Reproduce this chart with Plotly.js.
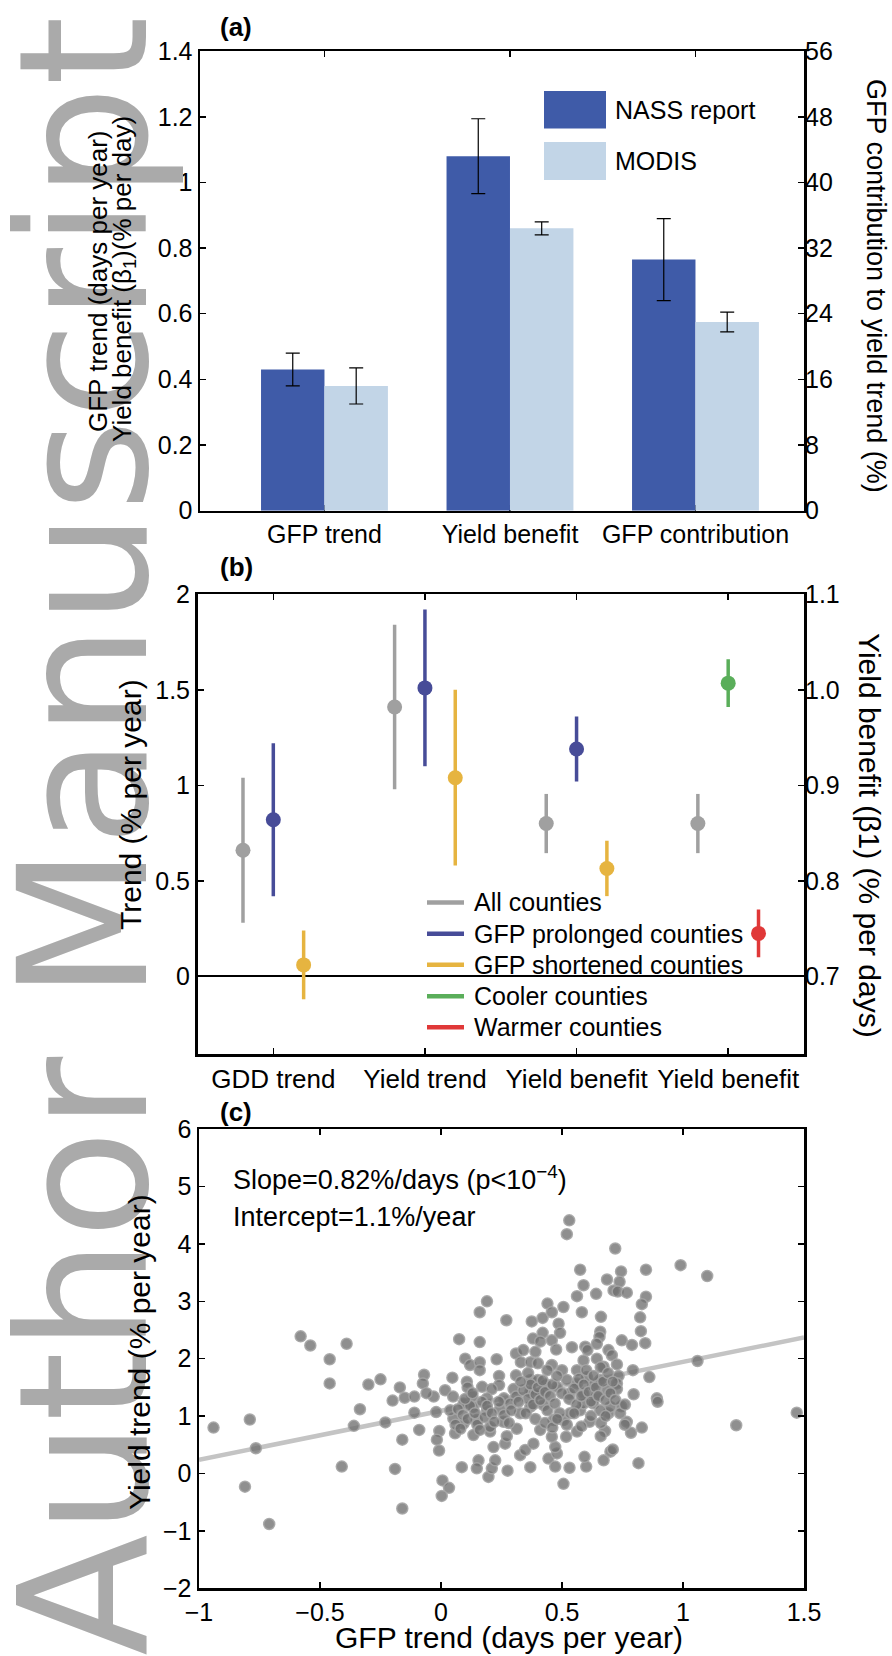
<!DOCTYPE html>
<html><head><meta charset="utf-8">
<script src="https://cdn.plot.ly/plotly-3.0.1.min.js"></script>
<style>html,body{margin:0;padding:0;background:#fff}#chart{width:892px;height:1656px}</style>
</head><body><div id="chart"></div>
<script>
// ---------- Panel (a) ----------
const categoriesA = ['GFP trend', 'Yield benefit', 'GFP contribution'];
const seriesA = ['NASS report', 'MODIS'];
// first two values on the left axis, the last one (GFP contribution, %) on the right axis
const nassA = [0.43, 1.08, 30.6];
const nassErrA = [0.05, 0.114, 5.0];
const modisA = [0.38, 0.86, 23.0];
const modisErrA = [0.055, 0.02, 1.2];

// ---------- Panel (b) ----------
const categoriesB = ['GDD trend', 'Yield trend', 'Yield benefit', 'Yield benefit'];
const seriesB = ['All counties', 'GFP prolonged counties', 'GFP shortened counties', 'Cooler counties', 'Warmer counties'];
// first two categories: trend (% per year, left axis); last two: yield benefit β1 (right axis)
const allCounties = [0.66, 1.41, 0.86, 0.86];
const allCountiesErr = [0.38, 0.43, 0.031, 0.031];
const prolongedCounties = [0.82, 1.51, 0.938, null];
const prolongedErr = [0.40, 0.41, 0.034, null];
const shortenedCounties = [0.06, 1.04, 0.813, null];
const shortenedErr = [0.18, 0.46, 0.029, null];
const coolerCounties = [null, null, null, 1.007];
const coolerErr = [null, null, null, 0.025];
const warmerCounties = [null, null, null, 0.745];
const warmerErr = [null, null, null, 0.025];

// ---------- Panel (c) ----------
// [GFP trend (days per year), Yield trend (% per year)] per county
const countyTrends = [
[-0.94,0.80],[-0.79,0.94],[-0.765,0.44],[-0.81,-0.23],[-0.71,-0.88],[-0.58,2.39],[-0.54,2.23],[-0.39,2.26],[-0.46,1.99],[-0.46,1.57],
[-0.41,0.12],[-0.36,0.83],[-0.335,1.12],[-0.30,1.55],[-0.25,1.64],[-0.23,0.89],[-0.19,0.08],[-0.16,0.59],[-0.16,-0.61],[-0.20,1.27],
[-0.17,1.50],[-0.15,1.32],[-0.11,1.34],[-0.11,1.06],[-0.09,0.76],[-0.07,1.72],[-0.075,1.57],
[0.99,3.63],[1.10,3.44],[1.06,1.96],[1.22,0.84],[1.47,1.06],[0.53,4.41],[0.52,4.17],[0.72,3.92],[0.575,3.55],[0.744,3.52],[0.847,3.55],
[0.19,3.00],[0.16,2.81],[0.27,2.67],[0.44,2.96],[0.375,2.65],[0.42,2.71],[0.42,2.45],[0.38,2.35],[0.41,2.30],[0.075,2.34],
[0.16,2.29],[0.31,2.09],[0.34,2.15],[0.39,2.12],[0.33,1.94],[0.37,1.94],[0.40,1.92],[0.10,2.00],[0.12,1.89],[0.16,1.94],
[0.16,1.80],[0.23,1.99],[0.31,1.71],[0.24,1.70],[0.047,1.67],[0.017,1.45],[0.107,1.60],[0.11,1.50],[0.17,1.51],[0.24,1.54],
[0.21,1.47],[0.30,1.47],[0.37,1.63],[0.40,1.63],[0.43,1.55],[0.37,1.42],[0.41,1.40],[0.31,1.34],[0.26,1.31],[0.19,1.31],
[0.13,1.34],[0.05,1.34],[-0.03,1.34],[-0.06,1.40],
[0.686,3.38],[0.738,3.34],[0.589,3.28],[0.713,3.19],[0.73,3.17],[0.768,3.15],[0.641,3.13],[0.562,3.09],[0.847,3.08],[0.83,2.95],
[0.506,2.90],[0.458,2.81],[0.582,2.81],[0.661,2.73],[0.823,2.72],[0.486,2.61],[0.492,2.45],[0.826,2.48],[0.658,2.47],[0.655,2.38],
[0.644,2.26],[0.458,2.32],[0.747,2.32],[0.789,2.24],[0.844,2.27],[0.476,2.16],[0.541,2.20],[0.596,2.21],[0.605,2.15],[0.692,2.15],
[0.706,2.06],[0.458,1.89],[0.50,1.80],[0.562,1.80],[0.589,1.97],[0.644,2.00],[0.672,1.86],[0.727,1.90],[0.793,1.80],[0.734,1.70],
[0.861,1.68],[0.727,1.57],[0.727,1.47],[0.796,1.38],[0.892,1.31],[0.52,1.63],[0.562,1.57],[0.603,1.68],[0.63,1.54],[0.658,1.63],
[0.686,1.45],[0.589,1.39],[0.53,1.39],[0.479,1.51],[0.644,1.34],
[-0.02,1.07],[-0.007,0.74],[-0.017,0.59],[-0.008,0.40],[0.086,0.11],[0.155,0.23],[0.148,0.09],[0.196,-0.06],[0.21,0.09],[0.224,0.23],
[0.275,0.05],[0.369,0.11],[0.006,-0.12],[0.033,-0.25],[0.003,-0.39],[0.051,0.96],[0.058,0.70],[0.134,0.67],[0.203,0.73],[0.217,0.46],
[0.265,0.52],[0.272,0.65],[0.313,0.78],[0.327,0.32],[0.348,0.41],[0.382,0.52],[0.41,0.76],[0.444,0.26],[0.093,1.22],[0.134,1.16],
[0.19,1.10],[0.244,1.13],[0.286,1.22],[0.093,0.87],[0.148,0.93],[0.203,0.81],[0.258,0.90],[0.327,1.05],[0.369,1.16],[0.424,1.19],
[0.038,1.10],
[0.506,-0.18],[0.472,0.12],[0.531,0.10],[0.60,0.12],[0.593,0.29],[0.672,0.23],[0.70,0.38],[0.71,0.42],[0.816,0.18],[0.83,0.80],
[0.785,0.71],[0.768,0.90],[0.76,0.85],[0.745,1.17],[0.895,1.25],[0.678,0.74],[0.661,0.88],[0.614,0.90],[0.517,0.64],[0.562,0.73],
[0.479,0.35],[0.472,0.46],[0.458,0.64],[0.465,0.93],[0.506,0.93],[0.534,1.05],[0.575,1.10],[0.589,1.22],[0.63,1.22],[0.692,1.05],
[0.70,1.16],[0.658,1.10],
[0.07,1.12],[0.09,1.02],[0.11,0.95],[0.12,1.18],[0.14,1.05],[0.15,0.85],[0.17,1.25],[0.18,0.98],[0.06,0.85],[0.10,1.30],
[0.13,1.40],[0.19,1.18],[0.08,0.78],[0.16,0.76],[0.21,1.05],[0.22,0.90],[0.24,1.25],[0.26,1.02],[0.28,0.88],[0.29,1.10],
[0.34,1.45],[0.36,1.30],[0.37,1.55],[0.38,1.20],[0.39,1.38],[0.40,1.50],[0.41,1.28],[0.42,1.62],[0.43,1.42],[0.44,1.10],
[0.45,1.35],[0.46,1.55],[0.47,1.22],[0.48,1.70],[0.35,1.05],[0.39,0.95],[0.43,0.88],[0.46,0.80],[0.49,1.05],[0.50,1.40],
[0.32,1.25],[0.33,1.60],[0.36,1.75],[0.44,1.80],[0.48,0.95],
[0.53,1.30],[0.55,1.48],[0.56,1.20],[0.57,1.65],[0.58,1.35],[0.59,1.55],[0.60,1.80],[0.61,1.42],[0.62,1.25],[0.63,1.70],
[0.64,1.50],[0.65,1.35],[0.66,1.85],[0.67,1.60],[0.68,1.28],[0.69,1.75],[0.70,1.40],[0.71,1.60],[0.55,1.05],[0.62,1.00],
[0.68,1.00],[0.72,1.28],[0.74,1.05],[0.76,1.20],[0.52,0.85],[0.58,0.82],[0.66,0.65]
];
const fitX = [-1, 1.5];
const fitY = [0.24, 2.37];
const slopeLabel = 'Slope=0.82%/days (p<10<sup>−4</sup>)';
const interceptLabel = 'Intercept=1.1%/year';

// ---------- styling ----------
const W = 892, H = 1656;
const px = v => v / W;
const py = v => 1 - v / H;
const FONT = 'Liberation Sans, Arial, Helvetica, sans-serif';
const colA = ['#3f5ba8', '#c2d5e7'];
const colB = ['#a0a0a0', '#474c98', '#e6b440', '#5aae5a', '#e03838'];
const barW = 0.342;

const traces = [];
// Panel (a) bars
[[nassA, nassErrA], [modisA, modisErrA]].forEach(([vals, errs], s) => {
  const common = {
    type: 'bar', width: barW, offset: s === 0 ? -barW : 0,
    marker: {color: colA[s], line: {width: 0}}, name: seriesA[s], showlegend: false,
    xaxis: 'x'
  };
  traces.push(Object.assign({}, common, {
    x: categoriesA.slice(0, 2), y: vals.slice(0, 2), yaxis: 'y',
    error_y: {type: 'data', array: errs.slice(0, 2), color: '#000', thickness: 1.2, width: 7}
  }));
  traces.push(Object.assign({}, common, {
    x: categoriesA.slice(2), y: vals.slice(2), yaxis: 'y2',
    error_y: {type: 'data', array: errs.slice(2), color: '#000', thickness: 1.2, width: 7}
  }));
});

// Panel (b) points with error bars
const offsetsB = [-0.2, 0, 0.2, 0, 0.2];
[[allCounties, allCountiesErr], [prolongedCounties, prolongedErr], [shortenedCounties, shortenedErr],
 [coolerCounties, coolerErr], [warmerCounties, warmerErr]].forEach(([vals, errs], s) => {
  [[0, 1, 'y3'], [2, 3, 'y4']].forEach(([i0, i1, ya]) => {
    const xs = [], ys = [], es = [];
    for (let i = i0; i <= i1; i++) {
      if (vals[i] === null) continue;
      xs.push(i + 1 + offsetsB[s]); ys.push(vals[i]); es.push(errs[i]);
    }
    if (!xs.length) return;
    traces.push({
      type: 'scatter', mode: 'markers', x: xs, y: ys, xaxis: 'x3', yaxis: ya,
      name: seriesB[s], showlegend: false,
      marker: {color: colB[s], size: 15},
      error_y: {type: 'data', array: es, color: colB[s], thickness: 3.5, width: 0}
    });
  });
});

// Panel (c)
traces.push({type: 'scatter', mode: 'lines', x: fitX, y: fitY, xaxis: 'x5', yaxis: 'y5',
  line: {color: '#c4c4c4', width: 4.5}, showlegend: false, hoverinfo: 'skip'});
traces.push({type: 'scatter', mode: 'markers', x: countyTrends.map(d => d[0]), y: countyTrends.map(d => d[1]),
  xaxis: 'x5', yaxis: 'y5', showlegend: false,
  marker: {color: 'rgba(112,112,112,0.78)', size: 11, line: {color: 'rgba(165,165,165,0.9)', width: 1.5}}});

const axBase = {
  showline: true, linecolor: '#000', linewidth: 2.5, mirror: 'ticks', ticks: 'inside', ticklen: 6,
  tickwidth: 1.5, tickcolor: '#000', showgrid: false, zeroline: false,
  tickfont: {family: FONT, size: 25, color: '#000'}
};
const rightBase = Object.assign({}, axBase, {showline: false, mirror: false, side: 'right'});

const layout = {
  width: W, height: H, margin: {l: 0, r: 0, t: 0, b: 0},
  paper_bgcolor: '#fff', plot_bgcolor: 'rgba(0,0,0,0)', showlegend: false,
  font: {family: FONT, size: 25, color: '#000'},
  xaxis: Object.assign({}, axBase, {domain: [px(200), px(804)], anchor: 'y', type: 'category',
    range: [-0.671, 2.585], layer: 'below traces'}),
  yaxis: Object.assign({}, axBase, {domain: [py(510.7), py(51.1)], anchor: 'x', range: [0, 1.4], dtick: 0.2}),
  yaxis2: Object.assign({}, rightBase, {overlaying: 'y', anchor: 'x', range: [0, 56], dtick: 8}),
  xaxis3: Object.assign({}, axBase, {domain: [px(197.5), px(804)], anchor: 'y3', range: [0.5, 4.5],
    tickvals: [1, 2, 3, 4], ticktext: categoriesB, tickfont: {family: FONT, size: 26, color: '#000'}}),
  yaxis3: Object.assign({}, axBase, {domain: [py(1054.3), py(594.3)], anchor: 'x3', range: [-0.408, 2],
    tickvals: [0, 0.5, 1, 1.5, 2], zeroline: true, zerolinecolor: '#000', zerolinewidth: 2}),
  yaxis4: Object.assign({}, rightBase, {overlaying: 'y3', anchor: 'x3', range: [0.6184, 1.1],
    tickvals: [0.7, 0.8, 0.9, 1.0, 1.1], tickformat: '.1f'}),
  xaxis5: Object.assign({}, axBase, {domain: [px(199), px(804)], anchor: 'y5', range: [-1, 1.5], dtick: 0.5}),
  yaxis5: Object.assign({}, axBase, {domain: [py(1588.3), py(1129.1)], anchor: 'x5', range: [-2, 6], dtick: 1}),
  shapes: [],
  annotations: []
};

// watermark
layout.annotations.push({xref: 'paper', yref: 'paper', x: px(84), y: py(836), text: 'Author Manuscript',
  textangle: -90, showarrow: false, xanchor: 'center', yanchor: 'middle',
  font: {family: 'DejaVu Sans, Verdana, sans-serif', size: 178, color: '#aaaaaa'}});

function ann(text, x, y, opts) {
  layout.annotations.push(Object.assign({xref: 'paper', yref: 'paper', x: px(x), y: py(y), text: text,
    showarrow: false, xanchor: 'center', yanchor: 'middle', font: {family: FONT, size: 27, color: '#000'}}, opts || {}));
}
// panel labels
ann('<b>(a)</b>', 218, 27, {xanchor: 'left', font: {family: FONT, size: 26, color: '#000'}});
ann('<b>(b)</b>', 218, 567, {xanchor: 'left', font: {family: FONT, size: 26, color: '#000'}});
ann('<b>(c)</b>', 218, 1112, {xanchor: 'left', font: {family: FONT, size: 26, color: '#000'}});
// axis titles
ann('GFP trend (days per year)', 98, 281, {textangle: -90, font: {family: FONT, size: 26, color: '#000'}});
ann('Yield benefit (β<sub>1</sub>)(% per day)', 124, 279, {textangle: -90, font: {family: FONT, size: 26, color: '#000'}});
ann('GFP contribution to yield trend (%)', 876, 286, {textangle: 90, font: {family: FONT, size: 27, color: '#000'}});
ann('Trend (% per year)', 130, 805, {textangle: -90, font: {family: FONT, size: 30, color: '#000'}});
ann('Yield benefit (β1) (% per days)', 870, 835, {textangle: 90, font: {family: FONT, size: 30, color: '#000'}});
ann('Yield trend (% per year)', 139, 1352, {textangle: -90, font: {family: FONT, size: 30, color: '#000'}});
ann('GFP trend (days per year)', 509, 1637, {font: {family: FONT, size: 30, color: '#000'}});
// panel (c) statistics
ann(slopeLabel, 231, 1178, {xanchor: 'left'});
ann(interceptLabel, 231, 1217, {xanchor: 'left'});

// legend (a)
[[91, 128.6], [142, 180]].forEach(([y0, y1], s) => {
  layout.shapes.push({type: 'rect', xref: 'paper', yref: 'paper', x0: px(544), x1: px(606), y0: py(y1), y1: py(y0),
    fillcolor: colA[s], line: {width: 0}});
  ann(seriesA[s], 613, (y0 + y1) / 2, {xanchor: 'left', font: {family: FONT, size: 25, color: '#000'}});
});
// legend (b)
[902.4, 933.8, 964.8, 996.2, 1027.3].forEach((y, s) => {
  layout.shapes.push({type: 'line', xref: 'paper', yref: 'paper', x0: px(427), x1: px(464), y0: py(y), y1: py(y),
    line: {color: colB[s], width: 4.5}});
  ann(seriesB[s], 472, y, {xanchor: 'left', font: {family: FONT, size: 25, color: '#000'}});
});

Plotly.newPlot('chart', traces, layout, {displayModeBar: false, staticPlot: true});
</script></body></html>
